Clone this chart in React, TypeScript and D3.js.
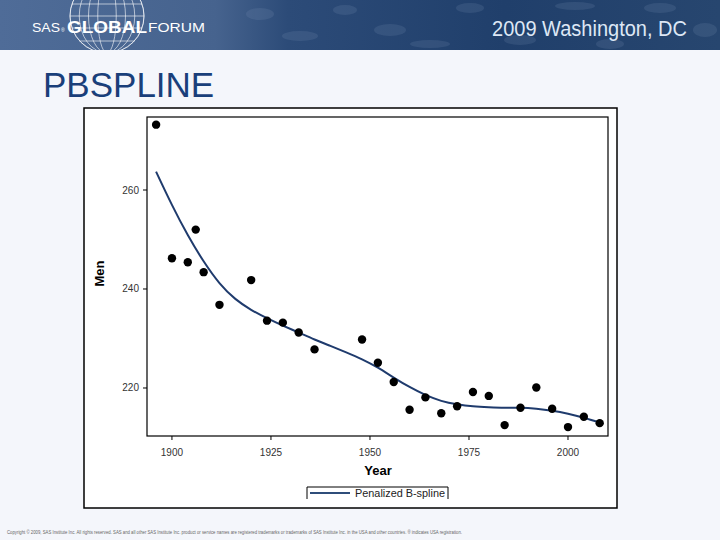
import * as d3 from "d3";
import React from "react";

// Olympic winning times (seconds)
const years = [1896, 1900, 1904, 1906, 1908, 1912, 1920, 1924, 1928, 1932, 1936, 1948, 1952, 1956, 1960, 1964, 1968, 1972, 1976, 1980, 1984, 1988, 1992, 1996, 2000, 2004, 2008];
const menTimes = [273.2, 246.2, 245.4, 252.0, 243.4, 236.8, 241.8, 233.6, 233.2, 231.2, 227.8, 229.8, 225.1, 221.2, 215.6, 218.1, 214.9, 216.3, 219.2, 218.4, 212.5, 216.0, 220.1, 215.8, 212.1, 214.2, 212.9];

// penalized B-spline fit, sampled every 4 years
const fitYears = [1896, 1900, 1904, 1908, 1912, 1916, 1920, 1924, 1928, 1932, 1936, 1940, 1944, 1948, 1952, 1956, 1960, 1964, 1968, 1972, 1976, 1980, 1984, 1988, 1992, 1996, 2000, 2004, 2008];
const fitValues = [263.7, 257.0, 250.9, 245.6, 241.2, 238.0, 235.8, 234.1, 232.6, 231.2, 229.8, 228.5, 227.2, 225.8, 224.1, 222.1, 220.2, 218.6, 217.4, 216.7, 216.3, 216.1, 216.0, 216.0, 215.8, 215.4, 214.8, 214.0, 213.0];

const xTicks = [1900, 1925, 1950, 1975, 2000];
const yTicks = [220, 240, 260];

const legendLabel = "Penalized B-spline";
const footerText =
  "Copyright © 2009, SAS Institute Inc. All rights reserved. SAS and all other SAS Institute Inc. product or service names are registered trademarks or trademarks of SAS Institute Inc. in the USA and other countries. ® indicates USA registration.";

const App = () => {
  const plot = { left: 147, right: 608, top: 117, bottom: 436 };

  const x = d3.scaleLinear().domain([1893.7, 2010.1]).range([plot.left, plot.right]);
  const y = d3.scaleLinear().domain([210.3, 274.75]).range([plot.bottom, plot.top]);

  const fitLine = d3
    .line<number>()
    .x((_, i) => x(fitYears[i]))
    .y((v) => y(v))
    .curve(d3.curveNatural);

  const font = "'Liberation Sans', Arial, sans-serif";

  // globe in the banner
  const gx = 107;
  const gy = 16;
  const gr = 37;
  const meridians = [0.25, 0.5, 0.75, 1];
  const parallels = [-25, -12, 0, 12, 25];

  // mottled texture on the banner's right side
  const blotches = [
    [260, 14, 14, 6], [300, 36, 18, 5], [345, 10, 12, 5], [390, 30, 16, 6], [430, 44, 20, 4],
    [470, 8, 14, 5], [520, 40, 16, 5], [575, 6, 20, 4], [610, 44, 14, 5], [660, 8, 16, 5], [705, 30, 12, 7],
  ];

  return (
    <>
      <style>{"body{margin:0}"}</style>
      <svg width={720} height={540} style={{ display: "block" }}>
        <defs>
          <linearGradient id="banner" x1="0" x2="1" y1="0" y2="0">
            <stop offset="0" stopColor="#4f6c98" />
            <stop offset="0.3" stopColor="#46638e" />
            <stop offset="0.4" stopColor="#2c4b78" />
            <stop offset="0.7" stopColor="#203f6b" />
            <stop offset="1" stopColor="#27466f" />
          </linearGradient>
          <clipPath id="bannerClip">
            <rect x={0} y={0} width={720} height={50} />
          </clipPath>
        </defs>

        {/* slide background */}
        <rect x={0} y={0} width={720} height={540} fill="#f4f6fb" />

        {/* banner */}
        <rect x={0} y={0} width={720} height={50} fill="url(#banner)" />
        <g clipPath="url(#bannerClip)" opacity={0.15} fill="#8ea4c4">
          {blotches.map(([cx, cy, rx, ry], i) => (
            <ellipse key={i} cx={cx} cy={cy} rx={rx} ry={ry} />
          ))}
        </g>
        <g clipPath="url(#bannerClip)" fill="none" stroke="#ffffff" strokeOpacity={0.75} strokeWidth={0.8}>
          <circle cx={gx} cy={gy} r={gr} />
          {meridians.map((m) => (
            <ellipse key={m} cx={gx} cy={gy} rx={gr * m} ry={gr} />
          ))}
          {parallels.map((p) => (
            <line
              key={p}
              x1={gx - Math.sqrt(gr * gr - p * p)}
              x2={gx + Math.sqrt(gr * gr - p * p)}
              y1={gy + p}
              y2={gy + p}
            />
          ))}
        </g>
        <text x={32} y={32} fill="#ffffff" fontFamily={font} fontSize={13} textLength={28} lengthAdjust="spacingAndGlyphs">
          SAS
        </text>
        <text x={61} y={32} fill="#ffffff" fontFamily={font} fontSize={5}>
          ®
        </text>
        <text x={67} y={33} fill="#ffffff" fontFamily={font} fontSize={17} fontWeight="bold" textLength={80} lengthAdjust="spacingAndGlyphs">
          GLOBAL
        </text>
        <text x={148} y={32} fill="#ffffff" fontFamily={font} fontSize={13} textLength={57} lengthAdjust="spacingAndGlyphs">
          FORUM
        </text>
        <text x={492} y={36} fill="#dde7f5" fontFamily={font} fontSize={22} textLength={195} lengthAdjust="spacingAndGlyphs">
          2009 Washington, DC
        </text>

        {/* slide title */}
        <text x={43} y={97} fill="#1a3f7a" fontFamily={font} fontSize={35}>
          PBSPLINE
        </text>

        {/* graph frame */}
        <rect x={84} y={108} width={533} height={400} fill="#ffffff" stroke="#000000" strokeWidth={1.5} />

        {/* plot area */}
        <rect
          x={plot.left}
          y={plot.top}
          width={plot.right - plot.left}
          height={plot.bottom - plot.top}
          fill="#ffffff"
          stroke="#000000"
          strokeWidth={1.2}
        />

        {/* y axis */}
        {yTicks.map((t) => (
          <g key={t}>
            <line x1={plot.left - 4} x2={plot.left} y1={y(t)} y2={y(t)} stroke="#000" strokeWidth={1} />
            <text x={plot.left - 8} y={y(t) + 3.5} textAnchor="end" fontFamily={font} fontSize={10} fill="#333">
              {t}
            </text>
          </g>
        ))}
        <text
          transform={`translate(104,${(plot.top + plot.bottom) / 2 - 3}) rotate(-90)`}
          textAnchor="middle"
          fontFamily={font}
          fontSize={13}
          fontWeight="bold"
          fill="#000"
        >
          Men
        </text>

        {/* x axis */}
        {xTicks.map((t) => (
          <g key={t}>
            <line x1={x(t)} x2={x(t)} y1={plot.bottom} y2={plot.bottom + 4} stroke="#000" strokeWidth={1} />
            <text x={x(t)} y={plot.bottom + 20} textAnchor="middle" fontFamily={font} fontSize={10} fill="#333">
              {t}
            </text>
          </g>
        ))}
        <text x={378} y={475} textAnchor="middle" fontFamily={font} fontSize={13} fontWeight="bold" fill="#000">
          Year
        </text>

        {/* fitted spline */}
        <path d={fitLine(fitValues) ?? ""} fill="none" stroke="#1f3b6d" strokeWidth={2} />

        {/* observations */}
        {years.map((yr, i) => (
          <circle key={yr} cx={x(yr)} cy={y(menTimes[i])} r={4.2} fill="#000" />
        ))}

        {/* legend (bottom edge cut off) */}
        <path d="M307,499 V487 H448 V499" fill="none" stroke="#000" strokeWidth={1} />
        <line x1={310} x2={350} y1={493} y2={493} stroke="#2f4d7a" strokeWidth={2.2} />
        <text x={355} y={497} fontFamily={font} fontSize={10.5} fill="#222" textLength={90} lengthAdjust="spacingAndGlyphs">
          {legendLabel}
        </text>

        {/* footer */}
        <text x={7} y={534} fontFamily={font} fontSize={4.5} fill="#666" textLength={455} lengthAdjust="spacingAndGlyphs">
          {footerText}
        </text>
      </svg>
    </>
  );
};

export default App;
